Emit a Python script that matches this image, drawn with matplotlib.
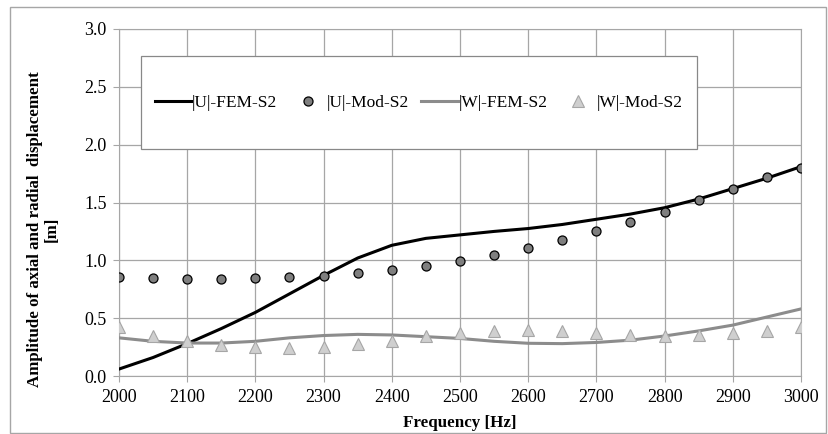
import numpy as np
import matplotlib
matplotlib.use('Agg')
from matplotlib import pyplot as plt
from matplotlib.patches import Rectangle

plt.rcParams['font.family'] = ['Liberation Serif', 'DejaVu Serif']

# frequency grid (Hz)
freq = [2000, 2050, 2100, 2150, 2200, 2250, 2300, 2350, 2400, 2450, 2500,
        2550, 2600, 2650, 2700, 2750, 2800, 2850, 2900, 2950, 3000]

# |U| FEM (line)
u_fem = [0.06, 0.16, 0.28, 0.41, 0.55, 0.71, 0.87, 1.02, 1.13, 1.19, 1.22,
         1.25, 1.275, 1.31, 1.355, 1.40, 1.455, 1.53, 1.62, 1.71, 1.81]
# |U| model (circles)
u_mod = [0.855, 0.845, 0.843, 0.843, 0.845, 0.855, 0.868, 0.888, 0.914, 0.951, 0.994,
         1.049, 1.11, 1.176, 1.25, 1.331, 1.415, 1.522, 1.62, 1.718, 1.80]
# |W| FEM (line)
w_fem = [0.33, 0.30, 0.285, 0.285, 0.30, 0.33, 0.35, 0.36, 0.355, 0.34, 0.325,
         0.30, 0.283, 0.28, 0.29, 0.31, 0.346, 0.39, 0.44, 0.51, 0.58]
# |W| model (triangles)
w_mod = [0.42, 0.35, 0.30, 0.27, 0.25, 0.245, 0.25, 0.277, 0.305, 0.346, 0.369,
         0.392, 0.398, 0.39, 0.375, 0.357, 0.35, 0.355, 0.37, 0.39, 0.42]

fig = plt.figure(figsize=(8.29, 4.34), dpi=100)
ax = fig.add_axes([0.1435, 0.1336, 0.8227, 0.7996])

ax.plot(freq, u_fem, color='black', lw=2.2, label='|U|-FEM-S2', zorder=3)
ax.plot(freq, u_mod, 'o', color='#7f7f7f', mec='black', mew=0.9, ms=6.5,
        label='|U|-Mod-S2', zorder=4)
ax.plot(freq, w_fem, color='#8c8c8c', lw=2.2, label='|W|-FEM-S2', zorder=3)
ax.plot(freq, w_mod, '^', color='#cfcfcf', mec='#a6a6a6', mew=0.8, ms=8,
        label='|W|-Mod-S2', zorder=4)

ax.set_xlim(2000, 3000)
ax.set_ylim(0, 3.0)
ax.set_xticks(np.arange(2000, 3001, 100))
ax.set_yticks(np.arange(0, 3.01, 0.5))
ax.yaxis.set_major_formatter(matplotlib.ticker.FormatStrFormatter('%.1f'))
ax.grid(True, color='#a6a6a6', lw=0.9)
ax.set_axisbelow(True)
for s in ax.spines.values():
    s.set_color('#a6a6a6')
ax.tick_params(direction='out', length=4, color='#a6a6a6', labelsize=13)
ax.tick_params(axis='x', pad=5)
ax.tick_params(axis='y', pad=5)

ax.set_xlabel('Frequency [Hz]', fontweight='bold', fontsize=12.2, labelpad=7)
fig.text(43 / 829, 1 - 229 / 434,
         'Amplitude of axial and radial  displacement\n[m]',
         rotation=90, ha='center', va='center', multialignment='center',
         fontweight='bold', fontsize=12.2, linespacing=1.05)

# legend box
ax.add_patch(Rectangle((0.032, 0.654), 0.815, 0.268, transform=ax.transAxes,
                       facecolor='white', edgecolor='#888888', lw=0.9, zorder=2.5))
leg = ax.legend(loc='center', bbox_to_anchor=(0.44, 0.788), ncol=4,
                frameon=False, fontsize=12.5, borderpad=0.3,
                handlelength=2.1, handletextpad=0.05, columnspacing=0.7,
                borderaxespad=0)

# outer chart border
fig.patches.append(Rectangle((10 / 829, 1 / 434), 816 / 829, 426 / 434,
                             transform=fig.transFigure, fill=False,
                             edgecolor='#a6a6a6', lw=1.0))

plt.savefig('out.png', dpi=100)
